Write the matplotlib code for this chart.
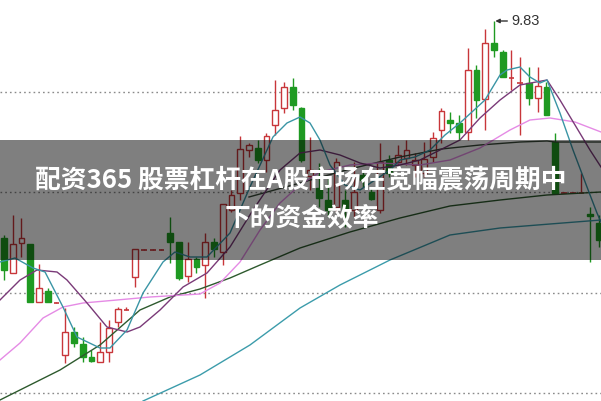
import matplotlib
matplotlib.use('Agg')
import matplotlib.pyplot as plt
from matplotlib.patches import Rectangle

# ---- daily candles (price units) ----
opens = [8.745, 8.57, 8.72, 8.715, 8.425, 8.48, 8.42, 8.16, 8.275, 8.215,
         8.15, 8.125, 8.175, 8.325, 8.385, 8.55, 8.685, 8.685, 8.685, 8.77,
         8.725, 8.555, 8.64, 8.61, 8.725, 8.675, 8.885, 8.97, 9.185, 9.195,
         9.135, 9.31, 9.395, 9.50, 9.395, 9.055, 8.995, 8.935, 8.90, 8.935,
         8.885, 9.06, 8.975, 8.885, 9.135, 9.125, 9.145, 9.11, 9.07, 9.15,
         9.285, 9.335, 9.32, 9.275, 9.585, 9.44, 9.72, 9.675, 9.545, 9.52,
         9.52, 9.445, 9.50, 9.225, 8.97, 8.97, 8.97, 8.865, 8.82]
closes = [8.585, 8.715, 8.745, 8.425, 8.495, 8.425, 8.425, 8.275, 8.22, 8.15,
          8.13, 8.175, 8.295, 8.39, 8.39, 8.69, 8.69, 8.69, 8.69, 8.725,
          8.545, 8.64, 8.60, 8.725, 8.69, 8.915, 8.96, 9.19, 9.21, 9.135,
          9.255, 9.385, 9.50, 9.41, 9.135, 9.085, 8.945, 8.885, 9.125, 8.885,
          8.975, 9.035, 8.94, 9.125, 9.07, 9.16, 9.185, 9.135, 9.14, 9.245,
          9.38, 9.32, 9.275, 9.585, 9.435, 9.72, 9.685, 9.55, 9.55, 9.525,
          9.445, 9.505, 9.36, 8.97, 8.975, 8.975, 8.975, 8.855, 8.735]
highs = [8.76, 8.86, 8.845, 8.715, 8.615, 8.495, 8.425, 8.395, 8.30, 8.25,
         8.185, 8.325, 8.335, 8.40, 8.40, 8.69, 8.69, 8.69, 8.69, 8.85,
         8.725, 8.725, 8.65, 8.77, 8.745, 8.915, 8.985, 9.255, 9.22, 9.235,
         9.27, 9.535, 9.525, 9.545, 9.40, 9.25, 9.12, 9.05, 9.145, 8.985,
         9.125, 9.085, 9.0, 9.22, 9.16, 9.21, 9.235, 9.17, 9.225, 9.275,
         9.395, 9.375, 9.36, 9.695, 9.61, 9.79, 9.83, 9.685, 9.685, 9.65,
         9.60, 9.60, 9.525, 9.27, 8.975, 8.975, 9.07, 8.90, 8.86]
lows = [8.535, 8.57, 8.65, 8.425, 8.425, 8.425, 8.42, 8.12, 8.20, 8.125,
        8.125, 8.125, 8.125, 8.30, 8.385, 8.50, 8.685, 8.685, 8.685, 8.62,
        8.535, 8.525, 8.57, 8.445, 8.65, 8.61, 8.875, 8.935, 9.15, 9.12,
        9.075, 9.26, 9.37, 9.385, 9.125, 8.985, 8.90, 8.85, 8.875, 8.80,
        8.85, 9.0, 8.935, 8.87, 9.05, 9.11, 9.11, 9.05, 9.05, 9.125,
        9.22, 9.27, 9.235, 9.235, 9.345, 9.285, 9.65, 9.55, 9.485, 9.26,
        9.41, 9.375, 9.36, 8.97, 8.97, 8.97, 8.97, 8.625, 8.70]

# ---- moving averages (day index, price) ----
ma5_day = [-0.46, 1.26, 3.31, 4.69, 6.74, 8.34, 10.97, 12.11, 14.06, 15.89, 18.17, 19.54,
           21.26, 23.2, 25.83, 28.11, 30.74, 32.34, 33.83, 34.97, 36.11, 37.26, 38.97,
           40.69, 42.4, 44.11, 45.26, 46.97, 48.69, 50.4, 52.11, 54.97, 56.69, 57.49,
           58.97, 60.11, 61.26, 62.06, 63.54, 65.03, 66.63, 67.77, 68.23]
ma5_val = [8.625, 8.645, 8.595, 8.575, 8.40, 8.25, 8.195, 8.195, 8.285, 8.47, 8.625, 8.675,
           8.65, 8.65, 8.77, 9.0, 9.25, 9.32, 9.35, 9.32, 9.235, 9.11, 9.01,
           8.985, 9.035, 9.085, 9.135, 9.15, 9.185, 9.26, 9.32, 9.435, 9.56, 9.585,
           9.60, 9.55, 9.52, 9.535, 9.37, 9.185, 9.0, 8.87, 8.825]

ma10_day = [-0.46, 1.83, 3.77, 6.06, 7.2, 9.49, 11.77, 14.06, 15.54, 17.83, 20.46, 23.2,
            25.83, 28.46, 31.54, 33.83, 36.11, 38.4, 40.69, 42.97, 45.26, 47.54, 49.83,
            52.11, 54.4, 56.69, 58.97, 62.06, 63.54, 65.26, 66.97, 68.23]
ma10_val = [8.435, 8.535, 8.585, 8.575, 8.535, 8.42, 8.30, 8.275, 8.30, 8.385, 8.50, 8.57,
            8.70, 8.885, 9.085, 9.17, 9.185, 9.16, 9.12, 9.095, 9.11, 9.135, 9.185,
            9.235, 9.345, 9.435, 9.51, 9.535, 9.435, 9.31, 9.185, 9.10]

ma20_day = [-0.46, 1.83, 4.46, 6.74, 9.03, 12.91, 16.69, 22.4, 24.69, 26.97, 29.26, 31.54,
            33.83, 36.11, 39.54, 42.97, 47.54, 50.97, 54.4, 57.83, 60.11, 62.4, 65.26, 68.23]
ma20_val = [8.135, 8.22, 8.345, 8.40, 8.42, 8.435, 8.45, 8.465, 8.52, 8.625, 8.785, 8.92,
            9.01, 9.075, 9.11, 9.12, 9.11, 9.135, 9.195, 9.285, 9.335, 9.345, 9.325, 9.275]

ma30_day = [-0.46, 6.4, 10.97, 15.54, 18.97, 22.4, 25.83, 29.26, 33.83, 39.54, 45.26,
            50.97, 56.69, 62.06, 68.23]
ma30_val = [7.935, 8.085, 8.21, 8.385, 8.45, 8.49, 8.545, 8.61, 8.695, 8.775, 8.845,
            8.905, 8.935, 8.96, 8.975]

ma60_day = [28.0, 33.83, 39.54, 45.26, 50.0, 54.4, 58.97, 62.06, 63.0, 68.23]
ma60_val = [8.95, 9.02, 9.09, 9.15, 9.19, 9.21, 9.225, 9.23, 9.225, 9.225]

ma120_day = [15.89, 22.4, 28.11, 33.83, 38.4, 44.11, 50.97, 56.69, 62.4, 68.23]
ma120_val = [7.93, 8.06, 8.21, 8.395, 8.51, 8.635, 8.76, 8.795, 8.815, 8.835]

grid_levels = [9.475, 8.975, 8.47, 7.97]
peak_label = "9.83"
peak_day = 56
peak_price = 9.83

title_line1 = "配资365 股票杠杆在A股市场在宽幅震荡周期中"
title_line2 = "下的资金效率"

RED = '#c8363a'
GREEN = '#1f9a22'

fig = plt.figure(figsize=(6.01, 4.01), dpi=100)
ax = fig.add_axes([0, 0, 1, 1])
ax.set_xlim(-0.457, 68.23)
ax.set_ylim(7.93, 9.935)
ax.axis('off')

for g in grid_levels:
    ax.axhline(g, color='#8a8a8a', lw=1.0, ls=(0, (1.2, 2.2)), zorder=1)

w = 0.68
for i, (o, h, l, c) in enumerate(zip(opens, highs, lows, closes)):
    up = c >= o
    col = RED if up else GREEN
    ax.vlines(i, l, h, color=col, lw=1.0, zorder=2)
    lo, hi = min(o, c), max(o, c)
    if hi - lo < 0.006:
        ax.hlines((o + c) / 2, i - w / 2, i + w / 2, color=col, lw=1.2, zorder=3)
    else:
        ax.add_patch(Rectangle((i - w / 2, lo), w, hi - lo,
                               facecolor='white' if up else GREEN,
                               edgecolor=col, lw=1.0, zorder=3))

ax.plot(ma120_day, ma120_val, color='#3c9cab', lw=1.0, zorder=4)
ax.plot(ma60_day, ma60_val, color='#3a4a3a', lw=1.0, zorder=4)
ax.plot(ma30_day, ma30_val, color='#2e5a2e', lw=1.0, zorder=4)
ax.plot(ma20_day, ma20_val, color='#e58be5', lw=1.0, zorder=4)
ax.plot(ma10_day, ma10_val, color='#7a3a78', lw=1.0, zorder=4)
ax.plot(ma5_day, ma5_val, color='#3a95a5', lw=1.0, zorder=4)

ax.annotate(peak_label, xy=(peak_day + 0.15, peak_price), xytext=(peak_day + 2.0, peak_price),
            ha='left', va='center', fontsize=10.5, color='#333333', family='Liberation Sans',
            arrowprops=dict(arrowstyle='-|>', color='#333333', lw=1.0, shrinkA=1, shrinkB=0,
                            mutation_scale=6), zorder=6)

fig.add_artist(Rectangle((0, 1 - 260 / 401), 1, 120 / 401, transform=fig.transFigure,
                         facecolor='black', alpha=0.5, edgecolor='none', zorder=10))
fam = ['Noto Sans CJK SC', 'DejaVu Sans']
fig.text(0.5, 1 - 181 / 401, title_line1, ha='center', va='center', color='white',
         fontsize=18.5, fontweight='bold', family=fam, zorder=11)
fig.text(0.503, 1 - 218 / 401, title_line2, ha='center', va='center', color='white',
         fontsize=18.5, fontweight='bold', family=fam, zorder=11)

fig.savefig('out.png', dpi=100)
